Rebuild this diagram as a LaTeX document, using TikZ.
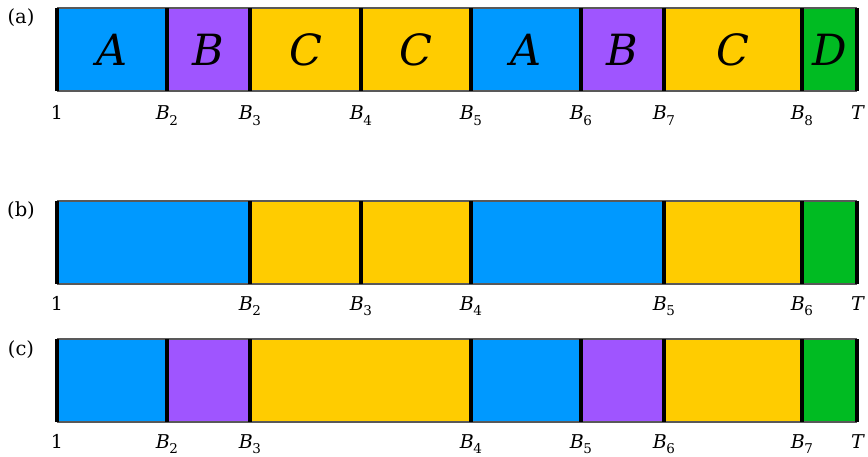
\documentclass[tikz,border=0pt]{standalone}
\usepackage{fontspec}
\setmainfont{DejaVu Serif}
\definecolor{cA}{HTML}{0099FF}
\definecolor{cB}{HTML}{9F55FF}
\definecolor{cC}{HTML}{FFCC00}
\definecolor{cD}{HTML}{00BB22}
\newcommand{\bsub}[2]{\textit{#1}\kern-0.5pt\raisebox{-0.3em}{\fontsize{13.5}{14}\selectfont #2}}
\tikzset{
  edge/.style={draw=black!65, line width=1.6pt},
  sep/.style={draw=black, line width=3.4pt},
  letter/.style={inner sep=0pt, font=\fontsize{43}{46}\selectfont\itshape},
  lab/.style={anchor=base, inner sep=0pt, font=\fontsize{19}{22}\selectfont},
  tag/.style={inner sep=0pt, font=\fontsize{19.5}{22}\selectfont}
}
\begin{document}
\begin{tikzpicture}[x=1pt,y=-1pt]
\useasboundingbox (0,0) rectangle (868,457);
% ---------- row (a)
\foreach \a/\b/\c/\l [count=\i] in {57/167/cA/A,167/250/cB/B,250/361/cC/C,361/471/cC/C,471/581/cA/A,581/664/cB/B,664/802/cC/C,802/857/cD/D}{
  \fill[\c] (\a,8) rectangle (\b,91);
  \node[letter] (a\i) at ({(\a+\b)/2},50) {\l};
}
\draw[edge] (57,8) -- (857,8) (57,91) -- (857,91);
\foreach \x in {57,167,250,361,471,581,664,802,857} \draw[sep] (\x,8) -- (\x,91);
\node[lab] (la1) at (57,120) {1};
\foreach \x/\n [count=\i] in {167/2,250/3,361/4,471/5,581/6,664/7,802/8}
  \node[lab] (la\i) at (\x,120) {\bsub{B}{\n}};
\node[lab] (laT) at (858,120) {\textit{T}};
\node[tag] (ta) at (21,18) {(a)};
% ---------- row (b)
\foreach \a/\b/\c in {57/250/cA,250/361/cC,361/471/cC,471/664/cA,664/802/cC,802/857/cD}
  \fill[\c] (\a,201) rectangle (\b,284);
\draw[edge] (57,201) -- (857,201) (57,284) -- (857,284);
\foreach \x in {57,250,361,471,664,802,857} \draw[sep] (\x,201) -- (\x,284);
\node[lab] (lb1) at (57,310) {1};
\foreach \x/\n [count=\i] in {250/2,361/3,471/4,664/5,802/6}
  \node[lab] (lb\i) at (\x,310) {\bsub{B}{\n}};
\node[lab] (lbT) at (858,310) {\textit{T}};
\node[tag] (tb) at (21,211) {(b)};
% ---------- row (c)
\foreach \a/\b/\c in {57/167/cA,167/250/cB,250/471/cC,471/581/cA,581/664/cB,664/802/cC,802/857/cD}
  \fill[\c] (\a,339) rectangle (\b,422);
\draw[edge] (57,339) -- (857,339) (57,422) -- (857,422);
\foreach \x in {57,167,250,471,581,664,802,857} \draw[sep] (\x,339) -- (\x,422);
\node[lab] (lc1) at (57,448) {1};
\foreach \x/\n [count=\i] in {167/2,250/3,471/4,581/5,664/6,802/7}
  \node[lab] (lc\i) at (\x,448) {\bsub{B}{\n}};
\node[lab] (lcT) at (858,448) {\textit{T}};
\node[tag] (tc) at (21,350) {(c)};
\end{tikzpicture}
\end{document}
